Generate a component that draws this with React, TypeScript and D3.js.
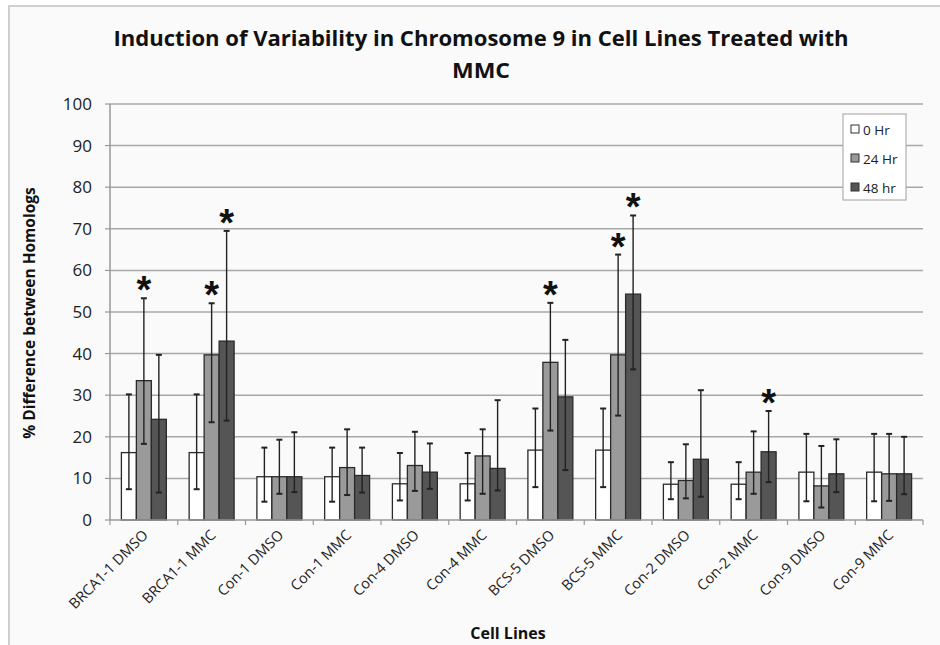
import * as d3 from "d3";
import {useMemo} from "react";

const categories = ["BRCA1-1 DMSO", "BRCA1-1 MMC", "Con-1 DMSO", "Con-1 MMC", "Con-4 DMSO", "Con-4 MMC",
    "BCS-5 DMSO", "BCS-5 MMC", "Con-2 DMSO", "Con-2 MMC", "Con-9 DMSO", "Con-9 MMC"];
const seriesNames = ["0 Hr", "24 Hr", "48 hr"];

// bar means
const hr0 = [16.2, 16.2, 10.4, 10.4, 8.7, 8.7, 16.8, 16.8, 8.6, 8.6, 11.5, 11.5];
const hr24 = [33.5, 39.7, 10.4, 12.6, 13.1, 15.4, 37.9, 39.7, 9.5, 11.5, 8.2, 11.1];
const hr48 = [24.2, 43.0, 10.4, 10.7, 11.5, 12.4, 29.6, 54.3, 14.6, 16.4, 11.1, 11.1];

// error bar ends (upper / lower)
const hr0Hi = [30.2, 30.2, 17.4, 17.4, 16.1, 16.1, 26.8, 26.8, 13.9, 13.9, 20.7, 20.7];
const hr0Lo = [7.4, 7.4, 4.4, 4.4, 4.7, 4.7, 7.9, 7.9, 5.0, 5.0, 4.5, 4.5];
const hr24Hi = [53.3, 52.1, 19.3, 21.8, 21.2, 21.8, 52.2, 63.8, 18.2, 21.3, 17.8, 20.7];
const hr24Lo = [18.3, 23.5, 6.3, 6.0, 7.0, 6.3, 21.5, 25.1, 5.2, 6.3, 3.0, 4.6];
const hr48Hi = [39.7, 69.5, 21.1, 17.4, 18.4, 28.8, 43.3, 73.2, 31.2, 26.2, 19.4, 20.0];
const hr48Lo = [6.6, 23.9, 6.7, 6.6, 7.5, 7.1, 12.0, 36.2, 5.6, 9.1, 6.7, 6.2];

// significance stars: [category index, series index]
const stars = [[0, 1], [1, 1], [1, 2], [6, 1], [7, 1], [7, 2], [9, 2]];

const yTicks = [0, 10, 20, 30, 40, 50, 60, 70, 80, 90, 100];
const fills = ["#ffffff", "#9a9a9a", "#555555"];

const W = 940, H = 645;
const font = "'Open Sans', 'Liberation Sans', sans-serif";

export default function App() {
    const table = useMemo(() => {
        const vals = [hr0, hr24, hr48];
        const his = [hr0Hi, hr24Hi, hr48Hi];
        const los = [hr0Lo, hr24Lo, hr48Lo];
        return categories.map((c, i) => ({
            cat: c,
            bars: seriesNames.map((s, j) => ({s, j, v: vals[j][i], hi: his[j][i], lo: los[j][i]}))
        }));
    }, []);

    const x = d3.scaleBand().domain(categories).range([110, 923]);
    const bw = x.bandwidth();
    const xs = d3.scaleBand().domain(seriesNames).range([11.4, bw - 11.4]);
    const y = d3.scaleLinear().domain([0, 100]).range([520, 104]);

    return (
        <div style={{position: "absolute", left: 0, top: 0}}>
            <svg width={W} height={H} style={{display: "block"}}>
                <rect x={0} y={0} width={W} height={H} fill="#ffffff"/>
                <rect x={9} y={6} width={W} height={H} fill="#fafafa" stroke="#cfcfcf" strokeWidth={2}/>

                <text x={481} y={46} textAnchor="middle" fontFamily={font} fontWeight="bold" fontSize={22}
                      fill="#111" textLength={735} lengthAdjust="spacingAndGlyphs">
                    Induction of Variability in Chromosome 9 in Cell Lines Treated with
                </text>
                <text x={481} y={78} textAnchor="middle" fontFamily={font} fontWeight="bold" fontSize={22}
                      fill="#111" textLength={58} lengthAdjust="spacingAndGlyphs">MMC</text>

                {/* grid + y axis */}
                {yTicks.map(t => (
                    <g key={t}>
                        {t > 0 && <line x1={110} x2={923} y1={y(t)} y2={y(t)} stroke="#a8a8a8" strokeWidth={1.5}/>}
                        <line x1={105} x2={110} y1={y(t)} y2={y(t)} stroke="#999" strokeWidth={1.2}/>
                        <text x={92} y={y(t)} dy="0.35em" textAnchor="end" fontFamily={font} fontSize={17}
                              fill="#222">{t}</text>
                    </g>
                ))}
                <line x1={110} x2={110} y1={y(100)} y2={y(0)} stroke="#999" strokeWidth={1.5}/>

                {/* bars */}
                {table.map(g => (
                    <g key={g.cat} transform={`translate(${x(g.cat)},0)`}>
                        {g.bars.map(b => (
                            <rect key={b.s} x={xs(b.s)} y={y(b.v)} width={xs.bandwidth()} height={y(0) - y(b.v)}
                                  fill={fills[b.j]} stroke="#2a2a2a" strokeWidth={1.3}/>
                        ))}
                        {g.bars.map(b => {
                            const cx = xs(b.s) + xs.bandwidth() / 2;
                            return (
                                <g key={b.s + "e"} stroke="#222" strokeWidth={1.4}>
                                    <line x1={cx} x2={cx} y1={y(b.hi)} y2={y(b.lo)}/>
                                    <line x1={cx - 3} x2={cx + 3} y1={y(b.hi)} y2={y(b.hi)} strokeWidth={2}/>
                                    <line x1={cx - 3} x2={cx + 3} y1={y(b.lo)} y2={y(b.lo)} strokeWidth={2}/>
                                </g>
                            );
                        })}
                    </g>
                ))}

                {/* x axis */}
                <line x1={110} x2={923} y1={y(0)} y2={y(0)} stroke="#999" strokeWidth={1.5}/>
                {categories.concat([""]).map((c, i) => {
                    const tx = 110 + i * bw;
                    return <line key={i} x1={tx} x2={tx} y1={y(0)} y2={y(0) + 5} stroke="#999" strokeWidth={1.2}/>;
                })}
                {categories.map(c => {
                    const cx = x(c) + bw / 2 + 5;
                    return (
                        <text key={c} transform={`translate(${cx},536) rotate(-45)`} textAnchor="end"
                              fontFamily={font} fontSize={14.5} fill="#222">{c}</text>
                    );
                })}

                {/* stars */}
                {stars.map(([ci, si], k) => {
                    const b = table[ci].bars[si];
                    const cx = x(categories[ci]) + xs(seriesNames[si]) + xs.bandwidth() / 2;
                    return (
                        <text key={k} x={cx} y={y(b.hi) + 5} textAnchor="middle" fontFamily="'Liberation Sans', sans-serif"
                              fontWeight="bold" fontSize={38} fill="#111">*</text>
                    );
                })}

                {/* axis titles */}
                <text transform="translate(35,313) rotate(-90)" textAnchor="middle" fontFamily={font}
                      fontWeight="bold" fontSize={15.5} fill="#111">% Difference between Homologs</text>
                <text x={508} y={639} textAnchor="middle" fontFamily={font} fontWeight="bold" fontSize={16}
                      fill="#111">Cell Lines</text>

                {/* legend */}
                <g>
                    <rect x={843} y={114} width={63} height={86} fill="#ffffff" stroke="#b0b0b0" strokeWidth={1.2}/>
                    {seriesNames.map((s, j) => (
                        <g key={s} transform={`translate(851,${130 + j * 29})`}>
                            <rect x={0} y={-5} width={8} height={8} fill={fills[j]} stroke="#333" strokeWidth={1}/>
                            <text x={12} y={0} dy="0.35em" fontFamily={font} fontSize={13.5} fill="#222">{s}</text>
                        </g>
                    ))}
                </g>
            </svg>
        </div>
    );
}
